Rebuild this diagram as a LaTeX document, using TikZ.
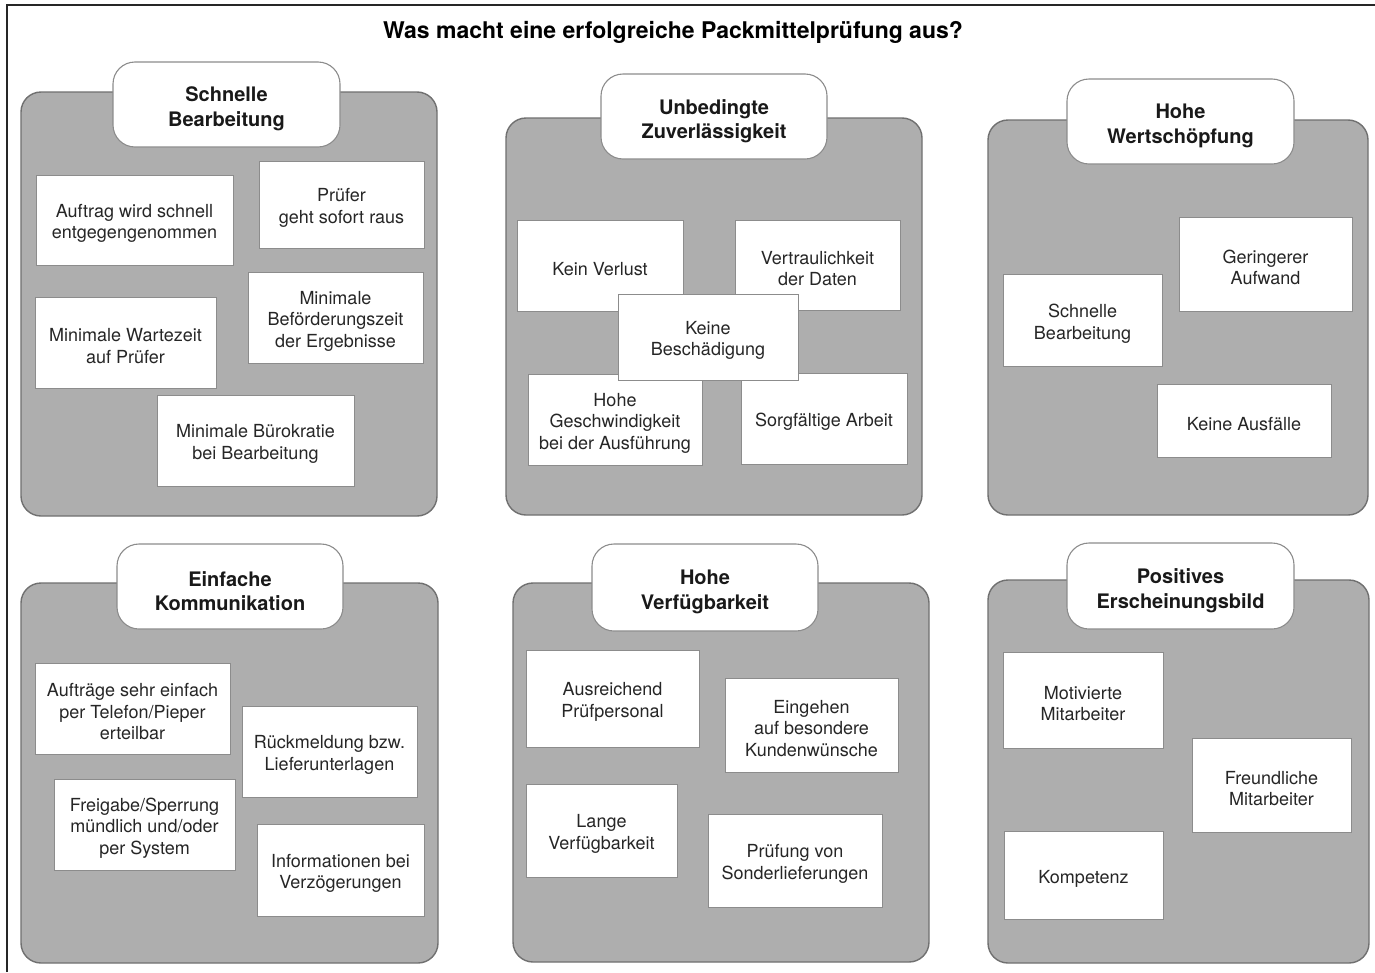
\documentclass[tikz,border=0pt]{standalone}
\usepackage{fontspec}
\setmainfont{TeX Gyre Heros}
\definecolor{panelgray}{HTML}{AEAEAE}
\definecolor{paneledge}{HTML}{707070}
\definecolor{boxedge}{HTML}{8C8C8C}
\newcommand\cardnode[6]{\node[card, minimum width={#4-#2}, minimum height={#5-#3},
   label={[cardtext]center:#6}] (#1) at ({(#2+#4)/2},{(#3+#5)/2}) {};}
\newcommand\headnode[6]{\node[head, minimum width={#4-#2}, minimum height={#5-#3},
   label={[headtext]center:#6}] (#1) at ({(#2+#4)/2},{(#3+#5)/2}) {};}
\newcommand\panelnode[5]{\node[panel, minimum width={#4-#2}, minimum height={#5-#3}] (#1) at ({(#2+#4)/2},{(#3+#5)/2}) {};}
\begin{document}
\begin{tikzpicture}[x=1pt,y=-1pt,
  panel/.style={draw=paneledge, fill=panelgray, line width=1.4pt, rounded corners=20pt, inner sep=0pt},
  head/.style={draw=boxedge, fill=white, line width=1.1pt, rounded corners=22pt, inner sep=0pt},
  headtext/.style={inner sep=0pt, align=center, yshift=-4.5pt,
     font=\fontsize{20}{24.5}\selectfont\bfseries, text=black!90},
  card/.style={draw=boxedge, fill=white, line width=1pt, inner sep=0pt},
  cardtext/.style={inner sep=0pt, align=center, yshift=-3.5pt,
     font=\fontsize{18}{21.5}\selectfont, text=black!85},
  titlestyle/.style={font=\fontsize{23}{27}\selectfont\bfseries, inner sep=0pt}]
\useasboundingbox (0,0) rectangle (1375,972);
\fill[white] (0,0) rectangle (1375,972);
\coordinate (fbl) at (7,972);
\coordinate (ftl) at (7,5);
\coordinate (ftr) at (1375,5);
\draw[line width=2pt, black!85] (fbl) -- (ftl) -- (ftr);
\node[titlestyle] (title) at (673,32) {Was macht eine erfolgreiche Packmittelprüfung aus?};

% Panel 1
\panelnode{p1}{21}{92}{437}{516}
\headnode{h1}{113}{62}{340}{147}{Schnelle\\Bearbeitung}
\cardnode{a1}{36}{175}{233}{265}{Auftrag wird schnell\\entgegengenommen}
\cardnode{a2}{259}{161}{424}{248}{Prüfer\\geht sofort raus}
\cardnode{a3}{35}{297}{216}{388}{Minimale Wartezeit\\auf Prüfer}
\cardnode{a4}{248}{272}{423}{363}{Minimale\\Beförderungszeit\\der Ergebnisse}
\cardnode{a5}{157}{395}{354}{486}{Minimale Bürokratie\\bei Bearbeitung}

% Panel 2
\panelnode{p2}{506}{118}{922}{515}
\headnode{h2}{601}{74}{827}{159}{Unbedingte\\Zuverlässigkeit}
\cardnode{b1}{517}{220}{683}{311}{Kein Verlust}
\cardnode{b2}{735}{220}{900}{310}{Vertraulichkeit\\der Daten}
\cardnode{b4}{528}{374}{702}{465}{Hohe\\Geschwindigkeit\\bei der Ausführung}
\cardnode{b5}{741}{373}{907}{464}{Sorgfältige Arbeit}
\cardnode{b3}{618}{294}{798}{380}{Keine\\Beschädigung}

% Panel 3
\panelnode{p3}{988}{120}{1368}{515}
\headnode{h3}{1067}{79}{1294}{164}{Hohe\\Wertschöpfung}
\cardnode{c1}{1179}{217}{1352}{311}{Geringerer\\Aufwand}
\cardnode{c2}{1003}{274}{1162}{366}{Schnelle\\Bearbeitung}
\cardnode{c3}{1157}{384}{1331}{457}{Keine Ausfälle}

% Panel 4
\panelnode{p4}{21}{583}{438}{963}
\headnode{h4}{117}{544}{343}{629}{Einfache\\Kommunikation}
\cardnode{d1}{35}{663}{230}{754}{Aufträge sehr einfach\\per Telefon/Pieper\\erteilbar}
\cardnode{d2}{242}{706}{417}{797}{Rückmeldung bzw.\\Lieferunterlagen}
\cardnode{d3}{54}{779}{235}{870}{Freigabe/Sperrung\\mündlich und/oder\\per System}
\cardnode{d4}{257}{824}{424}{916}{Informationen bei\\Verzögerungen}

% Panel 5
\panelnode{p5}{513}{583}{929}{962}
\headnode{h5}{592}{544}{818}{631}{Hohe\\Verfügbarkeit}
\cardnode{e1}{526}{650}{699}{747}{Ausreichend\\Prüfpersonal}
\cardnode{e2}{725}{678}{898}{772}{Eingehen\\auf besondere\\Kundenwünsche}
\cardnode{e3}{526}{784}{677}{877}{Lange\\Verfügbarkeit}
\cardnode{e4}{708}{814}{882}{907}{Prüfung von\\Sonderlieferungen}

% Panel 6
\panelnode{p6}{988}{580}{1369}{963}
\headnode{h6}{1067}{543}{1294}{629}{Positives\\Erscheinungsbild}
\cardnode{f1}{1003}{652}{1163}{748}{Motivierte\\Mitarbeiter}
\cardnode{f2}{1192}{738}{1351}{832}{Freundliche\\Mitarbeiter}
\cardnode{f3}{1004}{831}{1163}{919}{Kompetenz}
\end{tikzpicture}
\end{document}
